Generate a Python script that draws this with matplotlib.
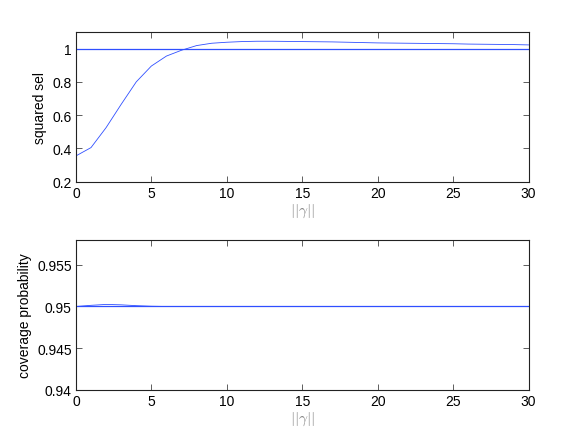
import numpy as np
import matplotlib.pyplot as plt

plt.rcParams['font.family'] = ['Liberation Sans', 'DejaVu Sans']
plt.rcParams['mathtext.fontset'] = 'cm'

gamma = list(range(0, 31))
sqsel = [0.355, 0.405, 0.525, 0.665, 0.80, 0.895, 0.955, 0.99, 1.018, 1.032,
         1.038, 1.042, 1.044, 1.044, 1.043, 1.042, 1.041, 1.040, 1.038, 1.036,
         1.034, 1.033, 1.032, 1.031, 1.030, 1.029, 1.027, 1.026, 1.025, 1.024, 1.022]
sel_ref = [1.0] * 31

cover = [0.95, 0.95014, 0.95025, 0.95020, 0.95010, 0.95003] + [0.95] * 25
cover_ref = [0.95] * 31

blue = '#2f4fff'

fig = plt.figure(figsize=(5.84, 4.39), dpi=100)
ax1 = fig.add_axes([0.13, 0.5838, 0.775, 0.3412])
ax2 = fig.add_axes([0.13, 0.11, 0.775, 0.3412])

ax1.plot(gamma, sqsel, color=blue, lw=0.6)
ax1.plot(gamma, sel_ref, color=blue, lw=0.9)
ax1.set_xlim(0, 30)
ax1.set_ylim(0.2, 1.1)
ax1.set_yticks([0.2, 0.4, 0.6, 0.8, 1.0])
ax1.set_yticklabels(['0.2', '0.4', '0.6', '0.8', '1'])
ax1.set_ylabel('squared sel', fontsize=10)

ax2.plot(gamma, cover, color=blue, lw=0.6)
ax2.plot(gamma, cover_ref, color=blue, lw=0.9)
ax2.set_xlim(0, 30)
ax2.set_ylim(0.94, 0.958)
ax2.set_yticks([0.94, 0.945, 0.95, 0.955])
ax2.set_yticklabels(['0.94', '0.945', '0.95', '0.955'])
ax2.set_ylabel('coverage probability', fontsize=10)

for ax in (ax1, ax2):
    ax.set_xticks([0, 5, 10, 15, 20, 25, 30])
    ax.tick_params(direction='in', top=True, right=True, length=4, width=0.6,
                   labelsize=10, color='#444444', pad=3)
    ax.set_xlabel(r'$||\gamma||$', color='#888888', fontsize=11, labelpad=1)
    for s in ax.spines.values():
        s.set_linewidth(0.8)
        s.set_color('#222222')

fig.savefig('out.png', dpi=100)
